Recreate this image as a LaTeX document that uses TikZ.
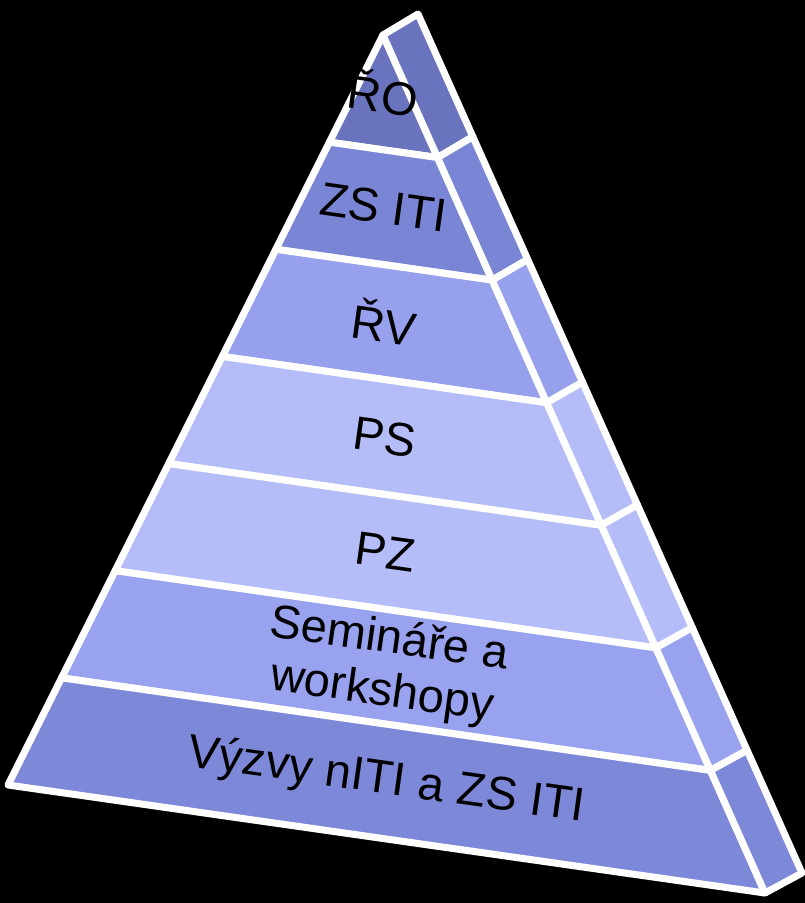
\documentclass[tikz,border=0pt]{standalone}
\usepackage{fontspec}
\setmainfont{Liberation Sans}
\usetikzlibrary{calc}

\definecolor{tierdark}{HTML}{6973BE}
\definecolor{tiermid}{HTML}{7A85D5}
\definecolor{tierlight}{HTML}{96A0EC}
\definecolor{tierpale}{HTML}{B4BDF8}
\definecolor{tiersoft}{HTML}{98A2EE}
\definecolor{tierbase}{HTML}{7D88D8}

\begin{document}
\begin{tikzpicture}[x=1pt, y=-1pt,
        face/.style={draw=white, line width=7pt, line join=round},
        tiertext/.style={font=\fontsize{47}{53}\selectfont, text=black, rotate=-8, align=center, inner sep=0pt}]

    % Background
    \fill[black] (0,0) rectangle (805,903);
    \useasboundingbox (0,0) rectangle (805,903);

    % Corners
    \coordinate (apex) at (383,35);
    \coordinate (back) at (418,14);
    \coordinate (left) at (8,785);
    \coordinate (right) at (765,893);
    \coordinate (backright) at (802,873);

    % Layers, front and side
    \foreach \k/\col in {0/tierdark, 1/tiermid, 2/tierlight, 3/tierpale, 4/tierpale, 5/tiersoft, 6/tierbase} {
        \pgfmathsetmacro{\ta}{\k/7}
        \pgfmathsetmacro{\tb}{(\k+1)/7}
        \filldraw[face, fill=\col] ($(apex)!\ta!(left)$) -- ($(apex)!\tb!(left)$)
            -- ($(apex)!\tb!(right)$) -- ($(apex)!\ta!(right)$) -- cycle;
        \filldraw[face, fill=\col] ($(apex)!\ta!(right)$) -- ($(apex)!\tb!(right)$)
            -- ($(back)!\tb!(backright)$) -- ($(back)!\ta!(backright)$) -- cycle;
    }

    % Labels
    \foreach \k/\txt in {0/ŘO, 1/ZS ITI, 2/ŘV, 3/PS, 4/PZ, 5/{Semináře a\\workshopy}, 6/Výzvy nITI a ZS ITI} {
        \pgfmathsetmacro{\tm}{(\k+0.5)/7}
        \coordinate (midl) at ($(apex)!\tm!(left)$);
        \coordinate (midr) at ($(apex)!\tm!(right)$);
        \node[tiertext] (tier\k) at ($(midl)!0.5!(midr)$) {\txt};
    }

\end{tikzpicture}
\end{document}
